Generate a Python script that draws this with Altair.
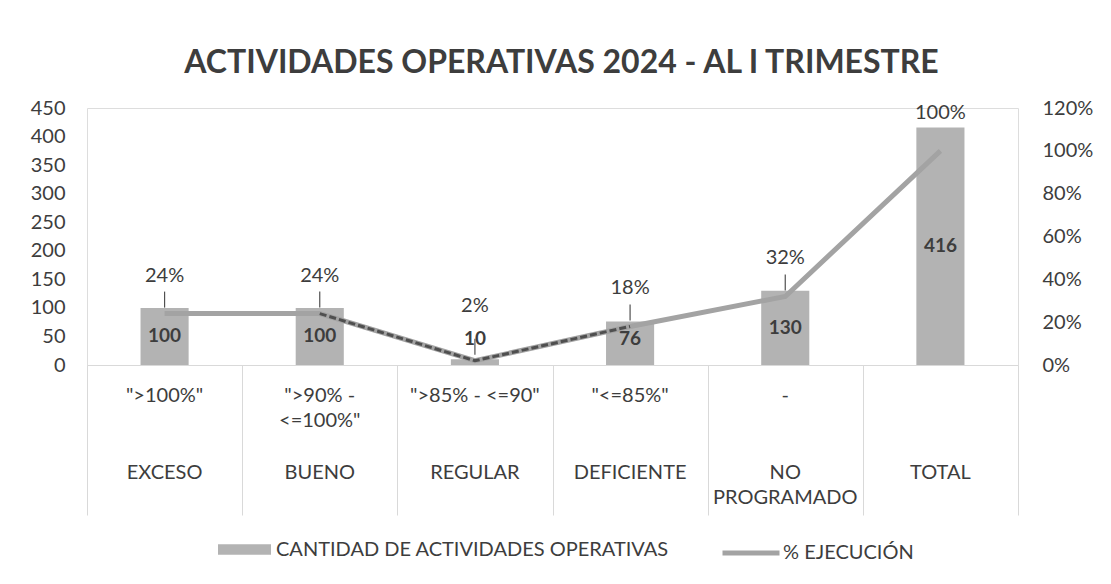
import json
import altair as alt
import pandas as pd

# ---- data ----
categorias = ["EXCESO", "BUENO", "REGULAR", "DEFICIENTE", "NO PROGRAMADO", "TOTAL"]
rango_lineas = [['">100%"'], ['">90% -', '<=100%"'], ['">85% - <=90"'], ['"<=85%"'], ['-'], ['']]
categoria_lineas = [['EXCESO'], ['BUENO'], ['REGULAR'], ['DEFICIENTE'], ['NO', 'PROGRAMADO'], ['TOTAL']]
cantidades = [100, 100, 10, 76, 130, 416]
porcentajes = [0.24, 0.24, 0.02, 0.18, 0.32, 1.00]
serie_barras = "CANTIDAD DE ACTIVIDADES OPERATIVAS"
serie_linea = "% EJECUCIÓN"
titulo = "ACTIVIDADES OPERATIVAS 2024 - AL I TRIMESTRE"
ticks_izq = [0, 50, 100, 150, 200, 250, 300, 350, 400, 450]
ticks_der = [0, 0.2, 0.4, 0.6, 0.8, 1.0, 1.2]
tramo_oscuro = ["BUENO", "REGULAR", "DEFICIENTE"]

df = pd.DataFrame({
    "categoria": categorias,
    "cantidad": cantidades,
    "porcentaje": porcentajes,
    "serie_b": serie_barras,
    "serie_l": serie_linea,
})

FONT = "Lato"
TXT = "#3d3d3d"
BAR = "#b3b3b3"
LINE = "#a3a3a3"
GRID = "#d9d9d9"


def expr_lineas(listas):
    e = "''"
    for c, lines in reversed(list(zip(categorias, listas))):
        e = f"datum.value == {json.dumps(c)} ? {json.dumps(lines)} : ({e})"
    return e


xscale = alt.Scale(domain=categorias, paddingInner=0, paddingOuter=0)
yq = alt.Scale(domain=[0, 450], nice=False)
yp = alt.Scale(domain=[0, 1.2], nice=False)
xn = alt.X("categoria:N", sort=categorias, scale=xscale, axis=None)

label_style = dict(ticks=False, domain=False, grid=False, labelFont=FONT, labelFontSize=20,
                   labelColor=TXT, labelLineHeight=25, labelBaseline="top", labelAngle=0,
                   labelLimit=300)

base = alt.Chart(df)

bars = base.mark_bar(width=alt.RelativeBandSize(0.31)).encode(
    x=alt.X("categoria:N", sort=categorias, scale=xscale, title=None,
            axis=alt.Axis(orient="bottom", labels=False, ticks=True, tickBand="extent",
                          tickSize=150, tickColor=GRID, tickWidth=1,
                          domain=True, domainColor=GRID, domainWidth=1, grid=False)),
    y=alt.Y("cantidad:Q", scale=yq, title=None,
            axis=alt.Axis(values=ticks_izq, domain=False, ticks=False, grid=False,
                          labelFont=FONT, labelFontSize=20, labelColor=TXT, labelPadding=22)),
    color=alt.Color("serie_b:N", scale=alt.Scale(range=[BAR]), title=None,
                    legend=alt.Legend(orient="none", legendX=130, legendY=414,
                                      symbolType="M-1,-0.2H1V0.2H-1Z", symbolSize=2809,
                                      symbolOpacity=1, labelFont=FONT, labelFontSize=20,
                                      labelColor=TXT, labelLimit=600, padding=0)),
)

bar_text = base.mark_text(font=FONT, fontSize=19, fontWeight="bold", color=TXT).transform_calculate(
    pos="max(datum.cantidad/2, 45)"
).encode(
    x=xn,
    y=alt.Y("pos:Q", scale=yq, axis=None),
    text=alt.Text("cantidad:Q"),
)

line = base.mark_line(strokeWidth=5).encode(
    x=alt.X("categoria:N", sort=categorias, scale=xscale, title=None,
            axis=alt.Axis(orient="bottom", labelExpr=expr_lineas(rango_lineas),
                          labelPadding=20, **label_style)),
    y=alt.Y("porcentaje:Q", scale=yp, title=None,
            axis=alt.Axis(orient="right", values=ticks_der, format=".0%", domain=False,
                          ticks=False, grid=False, labelFont=FONT, labelFontSize=20,
                          labelColor=TXT, labelPadding=24)),
    stroke=alt.Stroke("serie_l:N", scale=alt.Scale(range=[LINE]), title=None,
                      legend=alt.Legend(orient="none", legendX=633, legendY=414,
                                        symbolType="stroke", symbolSize=3249,
                                        symbolStrokeWidth=5, labelFont=FONT, labelOffset=1,
                                        labelFontSize=20, labelColor=TXT, padding=0)),
)

dark = base.transform_filter(
    alt.FieldOneOfPredicate(field="categoria", oneOf=tramo_oscuro)
).mark_line(strokeWidth=3, color="#4f4f4f", strokeDash=[7, 3]).encode(
    x=xn,
    y=alt.Y("porcentaje:Q", scale=yp, axis=None),
)

leaders = base.transform_filter("datum.porcentaje < 1").mark_rule(
    color="#505050", strokeWidth=1.2, yOffset=-6, y2Offset=-22
).encode(
    x=xn,
    y=alt.Y("porcentaje:Q", scale=yp, axis=None),
    y2="porcentaje:Q",
)

pct_text = base.mark_text(font=FONT, fontSize=20, color=TXT, dy=-38).transform_calculate(
    pos="max(datum.porcentaje, 0.1)"
).encode(
    x=alt.X("categoria:N", sort=categorias, scale=xscale, title=None,
            axis=alt.Axis(orient="bottom", labelExpr=expr_lineas(categoria_lineas),
                          labelPadding=97, **label_style)),
    y=alt.Y("pos:Q", scale=yp, axis=None),
    text=alt.Text("porcentaje:Q", format=".0%"),
)

chart = alt.layer(bars, bar_text, line, dark, leaders, pct_text).resolve_scale(
    y="independent", color="independent"
).resolve_axis(x="independent").properties(
    width=931, height=257,
    padding={"left": 22, "top": 39, "right": 5, "bottom": 5},
    title=alt.TitleParams(titulo, font=FONT, fontSize=32, fontWeight="bold", color=TXT,
                          anchor="middle", offset=18, dx=9),
).configure_view(stroke=None).configure(background="white")

chart.save("out.html", embed_options={"renderer": "svg", "actions": False})
